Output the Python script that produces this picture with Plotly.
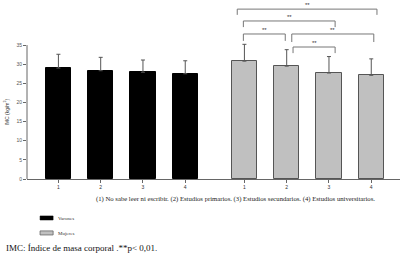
import plotly.graph_objects as go

categories = ["1", "2", "3", "4"]
varones_mean = [29.0, 28.3, 27.9, 27.5]
varones_sd = [3.6, 3.5, 3.2, 3.4]
mujeres_mean = [30.8, 29.5, 27.7, 27.1]
mujeres_sd = [4.4, 4.3, 4.3, 4.3]
y_ticks = [0, 5, 10, 15, 20, 25, 30, 35]
# significance comparisons among Mujeres groups (1-based indices)
comparisons = [(1, 4), (1, 3), (1, 2), (2, 4), (2, 3)]
sig_label = "**"

# layout/styling
GAP = 1.4
x_var = [i + 1 for i in range(len(categories))]
x_muj = [x_var[-1] + GAP + i for i in range(len(categories))]
# bracket style: (top y, leg bottom y, left offset, right offset)
bracket_style = [
    (44.4, 42.9, -0.17, 0.135),
    (41.3, 39.7, -0.025, 0.145),
    (37.9, 36.1, -0.025, -0.034),
    (37.9, 35.8, 0.12, 0.06),
    (34.5, 32.9, 0.15, 0.145),
]

fig = go.Figure()
fig.add_trace(go.Bar(
    x=x_var, y=varones_mean, width=0.6, name="Varones",
    marker=dict(color="black", line=dict(color="black", width=1)),
    error_y=dict(type="data", array=varones_sd, arrayminus=[0] * 4, symmetric=False,
                 color="#555555", thickness=1, width=2),
    showlegend=False,
))
fig.add_trace(go.Bar(
    x=x_muj, y=mujeres_mean, width=0.6, name="Mujeres",
    marker=dict(color="#c0c0c0", line=dict(color="#555555", width=1)),
    error_y=dict(type="data", array=mujeres_sd, arrayminus=[0] * 4, symmetric=False,
                 color="#555555", thickness=1, width=2),
    showlegend=False,
))

shapes = []
annotations = []
for (a, b), (yt, yb, o0, o1) in zip(comparisons, bracket_style):
    xa = x_muj[a - 1] + o0
    xb = x_muj[b - 1] + o1
    shapes.append(dict(type="path", xref="x", yref="y",
                       path=f"M{xa},{yb} L{xa},{yt} L{xb},{yt} L{xb},{yb}",
                       line=dict(color="#777777", width=1)))
    annotations.append(dict(x=(xa + xb) / 2, y=yt, xref="x", yref="y", text=sig_label,
                            showarrow=False, yanchor="bottom", yshift=-1,
                            font=dict(family="Liberation Sans", size=6, color="#333333")))

# y axis line only up to 35
shapes.append(dict(type="line", xref="paper", yref="y", x0=0, x1=0, y0=0, y1=35,
                   line=dict(color="#666666", width=1)))

# manual legend
shapes.append(dict(type="rect", xref="paper", yref="paper", x0=0.035, x1=0.070,
                   y0=-0.233, y1=-0.210, fillcolor="black", line=dict(color="black", width=0.5)))
shapes.append(dict(type="rect", xref="paper", yref="paper", x0=0.035, x1=0.070,
                   y0=-0.318, y1=-0.295, fillcolor="#c0c0c0", line=dict(color="#666666", width=0.8)))
annotations += [
    dict(x=0.078, y=-0.222, xref="paper", yref="paper", text="Varones", showarrow=False,
         xanchor="left", yanchor="middle", font=dict(family="Liberation Serif", size=5, color="#333333")),
    dict(x=0.078, y=-0.307, xref="paper", yref="paper", text="Mujeres", showarrow=False,
         xanchor="left", yanchor="middle", font=dict(family="Liberation Serif", size=5, color="#333333")),
    dict(x=0.56, y=-0.114, xref="paper", yref="paper",
         text="(1) No sabe leer ni escribir. (2) Estudios primarios. (3) Estudios secundarios. (4) Estudios universitarios.",
         showarrow=False, xanchor="center", yanchor="middle",
         font=dict(family="Liberation Serif", size=6.7, color="#222222")),
    dict(x=-0.062, y=-0.392, xref="paper", yref="paper",
         text="IMC: Índice de masa corporal .**p< 0,01.",
         showarrow=False, xanchor="left", yanchor="middle",
         font=dict(family="Liberation Serif", size=9, color="#111111")),
    dict(x=-0.055, y=17.5, xref="paper", yref="y", text="IMC (kg/m<sup>2</sup>)",
         showarrow=False, textangle=-90, xanchor="center", yanchor="middle",
         font=dict(family="Liberation Sans", size=5, color="#333333")),
]

fig.update_layout(
    width=404, height=256,
    margin=dict(l=27, r=4, t=3, b=77),
    paper_bgcolor="white", plot_bgcolor="white",
    shapes=shapes, annotations=annotations,
    bargap=0,
    xaxis=dict(range=[0.257, 9.08], tickvals=x_var + x_muj, ticktext=categories + categories,
               showline=True, linecolor="#666666", linewidth=1, ticks="outside", ticklen=3,
               tickcolor="#666666", showgrid=False, zeroline=False,
               tickfont=dict(family="Liberation Sans", size=5, color="#333333")),
    yaxis=dict(range=[0, 46], tickvals=y_ticks, showline=False, ticks="outside", ticklen=3,
               tickcolor="#666666", showgrid=False, zeroline=False,
               tickfont=dict(family="Liberation Sans", size=5, color="#555555")),
)

fig.write_html("out.html", config={"displayModeBar": False},
               post_script="document.body.style.margin='0';document.body.style.padding='0';")
